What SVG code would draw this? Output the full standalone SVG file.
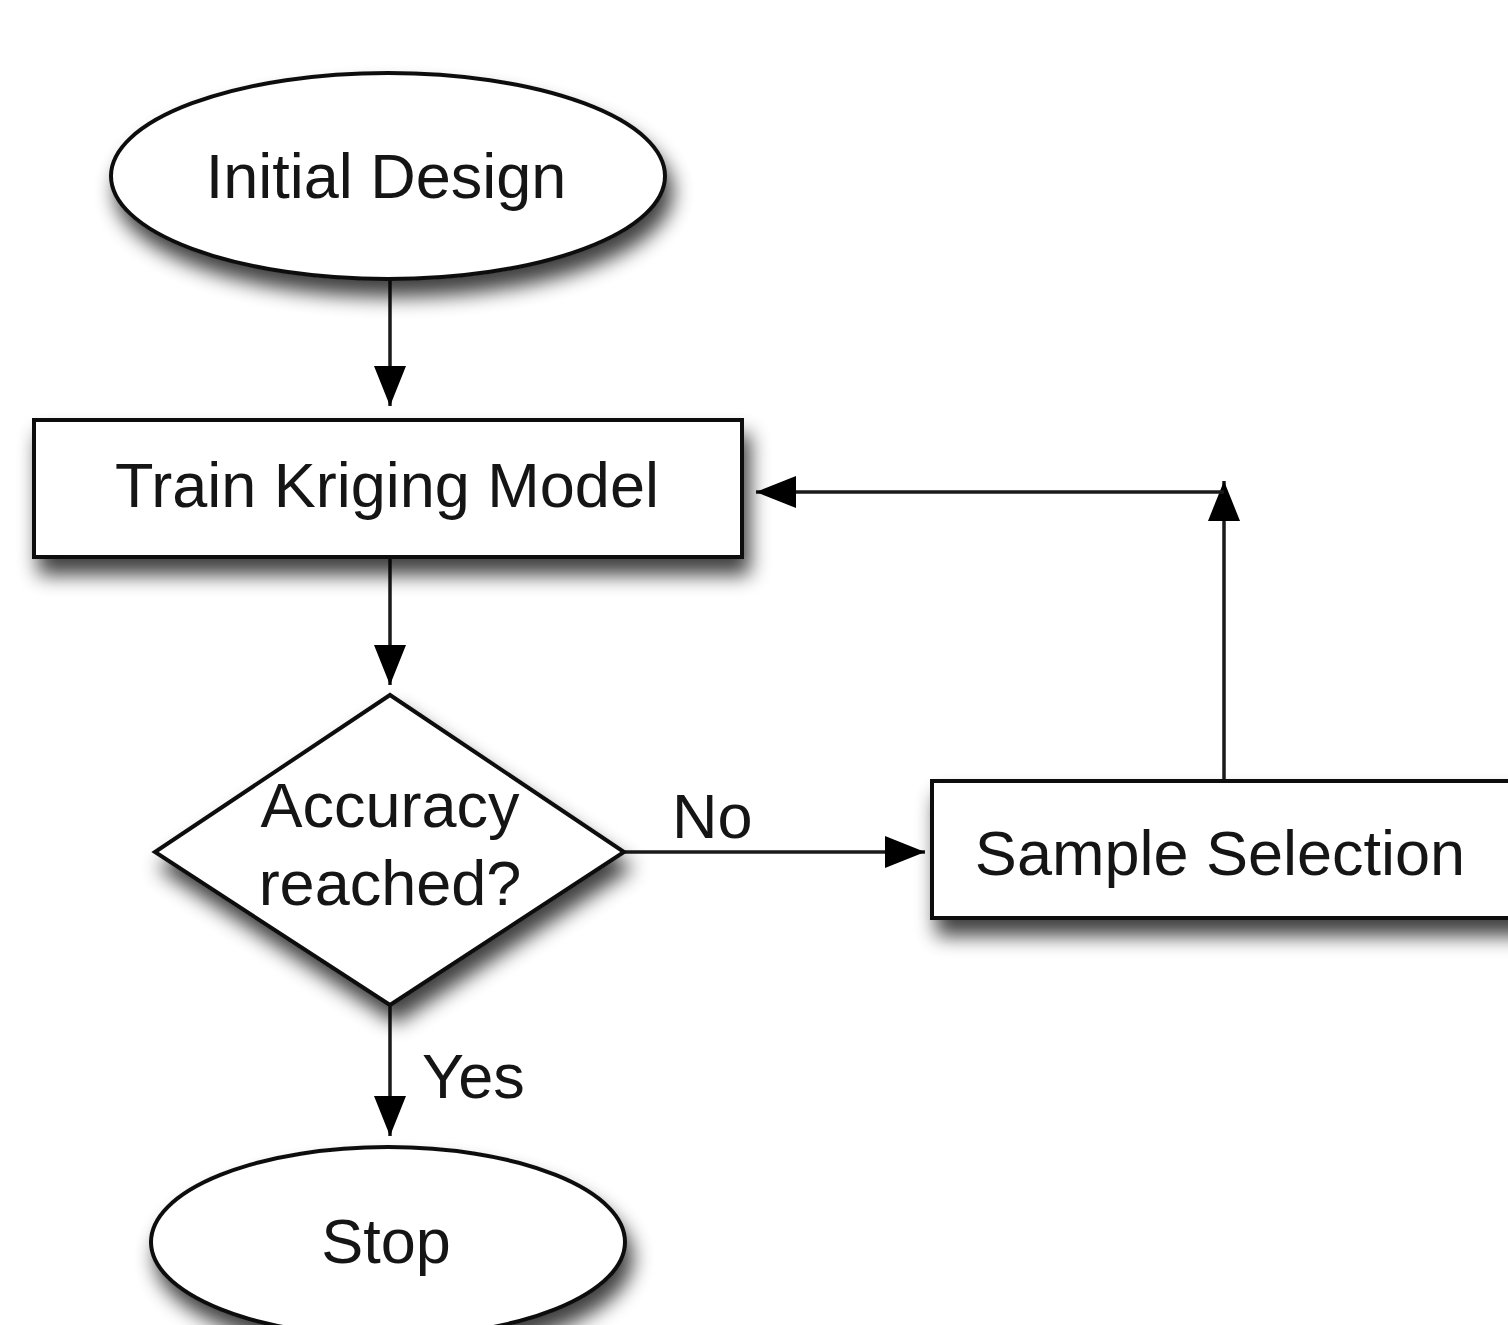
<svg xmlns="http://www.w3.org/2000/svg" width="1508" height="1325" viewBox="0 0 1508 1325">
<style>
.shape{fill:#fff;stroke:#111;stroke-width:4}
.lbl{font-family:"Liberation Sans",Arial,sans-serif;font-size:63px;fill:#151515;text-anchor:middle}
.edge{fill:none;stroke:#1a1a1a;stroke-width:3.5}
.elbl{font-family:"Liberation Sans",Arial,sans-serif;font-size:63px;fill:#151515}
</style>
<defs>
<filter id="sh" x="-20%" y="-20%" width="140%" height="170%">
<feGaussianBlur in="SourceAlpha" stdDeviation="10"/>
<feOffset dx="6" dy="16" result="b"/>
<feComponentTransfer><feFuncA type="linear" slope="0.75"/></feComponentTransfer>
<feMerge><feMergeNode/><feMergeNode in="SourceGraphic"/></feMerge>
</filter>
<marker id="ah" markerUnits="userSpaceOnUse" markerWidth="40" markerHeight="40" viewBox="0 0 40 40" refX="40" refY="20" orient="auto">
<path d="M0,4 L40,20 L0,36 Z" fill="#000"/>
</marker>
</defs>
<rect width="1508" height="1325" fill="#fff"/>
<g id="connectors">
<line class="edge" x1="390" y1="280" x2="390" y2="406" marker-end="url(#ah)"/>
<line class="edge" x1="390" y1="557" x2="390" y2="685" marker-end="url(#ah)"/>
<line class="edge" x1="625" y1="852" x2="925" y2="852" marker-end="url(#ah)"/>
<line class="edge" x1="390" y1="1005" x2="390" y2="1136" marker-end="url(#ah)"/>
<line class="edge" x1="1224" y1="781" x2="1224" y2="481" marker-end="url(#ah)" stroke="#555"/>
<polyline class="edge" points="1224,492 756,492" marker-end="url(#ah)" stroke="#333"/>
<text class="elbl" x="672" y="838">No</text>
<text class="elbl" x="422" y="1098">Yes</text>
</g>
<g id="initial-design">
<ellipse class="shape" cx="388" cy="176" rx="277" ry="103" filter="url(#sh)"/>
<text class="lbl" x="386" y="198">Initial Design</text>
</g>
<g id="train-kriging-model">
<rect class="shape" x="34" y="420" width="708" height="137" filter="url(#sh)"/>
<text class="lbl" x="387" y="507">Train Kriging Model</text>
</g>
<g id="accuracy-reached">
<polygon class="shape" points="390,695 624,852 390,1005 155,852" filter="url(#sh)"/>
<text class="lbl" x="390" y="827">Accuracy</text>
<text class="lbl" x="390" y="905">reached?</text>
</g>
<g id="sample-selection">
<rect class="shape" x="932" y="781" width="600" height="137" filter="url(#sh)"/>
<text class="lbl" x="1220" y="875">Sample Selection</text>
</g>
<g id="stop">
<ellipse class="shape" cx="388" cy="1242" rx="237" ry="95" filter="url(#sh)"/>
<text class="lbl" x="386" y="1263">Stop</text>
</g>
</svg>
